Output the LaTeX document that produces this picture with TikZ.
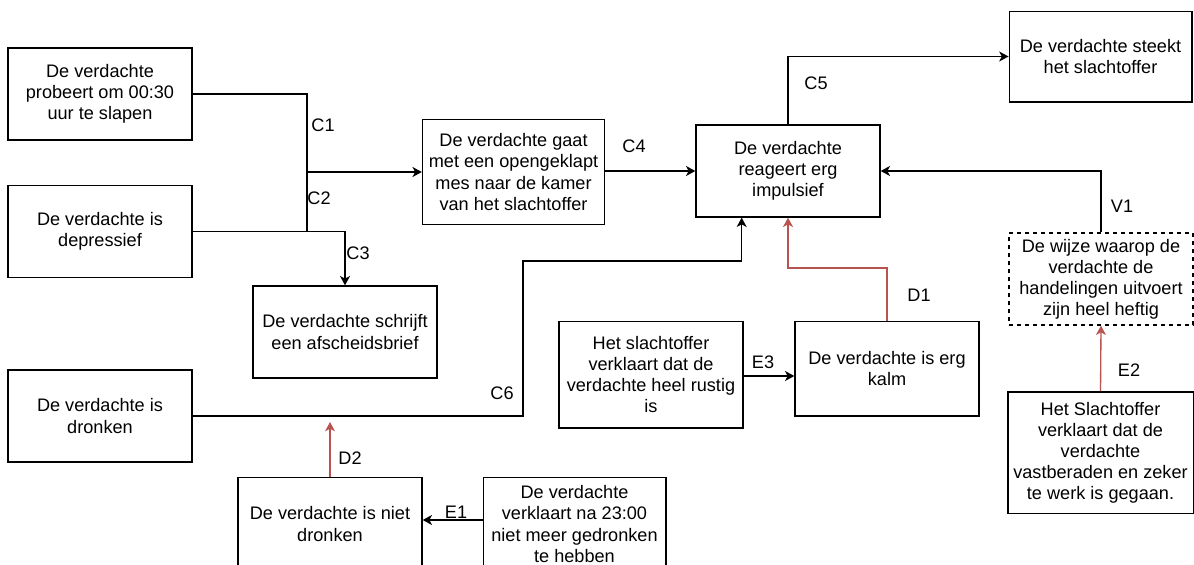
\documentclass[tikz,border=0pt]{standalone}
\usepackage{fontspec}
\setmainfont{Liberation Sans}
\usepackage{tikz}
\usetikzlibrary{arrows.meta, calc, positioning}

\definecolor{drawred}{HTML}{B85450}
\tikzset{
  box/.style={draw, line width=1pt, align=center, inner sep=2pt,
    minimum width=138pt, minimum height=69pt,
    font=\fontsize{13.6}{15.8}\selectfont},
  lbl/.style={font=\fontsize{13.6}{15.8}\selectfont, inner sep=1pt},
  link/.style={line width=1pt, -{Stealth[length=7pt, width=7.5pt, inset=2pt]}},
  redlink/.style={link, draw=drawred, -{Stealth[length=7pt, width=7.5pt, inset=2pt, fill=drawred]}}
}

\begin{document}
\begin{tikzpicture}[x=0.75pt, y=-0.75pt]
  \useasboundingbox (0,0) rectangle (1194,564);
  % boxes
  \node[box] (slapen) at (100,94) {De verdachte\\probeert om 00:30\\uur te slapen};
  \node[box] (depressief) at (100,231.5) {De verdachte is\\depressief};
  \node[box, minimum width=136.5pt, minimum height=79pt] (mes) at (513.5,172) {De verdachte gaat\\met een opengeklapt\\mes naar de kamer\\van het slachtoffer};
  \node[box] (brief) at (345,332) {De verdachte schrijft\\een afscheidsbrief};
  \node[box] (impulsief) at (788,171) {De verdachte\\reageert erg\\impulsief};
  \node[box, minimum width=137pt, minimum height=68pt] (steekt) at (1100.5,56.5) {De verdachte steekt\\het slachtoffer};
  \node[box, dashed] (heftig) at (1101,279) {De wijze waarop de\\verdachte de\\handelingen uitvoert\\zijn heel heftig};
  \node[box, minimum width=139pt, minimum height=91pt] (vastberaden) at (1100.5,452.5) {Het Slachtoffer\\verklaart dat de\\verdachte\\vastberaden en zeker\\te werk is gegaan.};
  \node[box, minimum height=80pt] (rustig) at (651,374.5) {Het slachtoffer\\verklaart dat de\\verdachte heel rustig\\is};
  \node[box, minimum height=71pt] (kalm) at (887,368.5) {De verdachte is erg\\kalm};
  \node[box] (dronken) at (100,416) {De verdachte is\\dronken};
  \node[box, minimum height=70pt] (nietdronken) at (330,524) {De verdachte is niet\\dronken};
  \node[box, minimum width=137pt, minimum height=70pt] (verklaart) at (574.5,524) {De verdachte\\verklaart na 23:00\\niet meer gedronken\\te hebben};

  % bends
  \coordinate (samen) at (307,172);
  \coordinate (knik) at (523,261);
  \coordinate (kalmop) at (887,268);
  \coordinate (d2) at ([yshift=-4.5pt]nietdronken.north |- dronken.east);

  % connectors
  \draw[line width=1pt] (slapen.east) -| (samen);
  \draw[line width=1pt] (depressief.east) -| (samen);
  \draw[link] (samen) -- (samen -| mes.west);
  \draw[link] (depressief.east) -| (brief.north);
  \draw[link] (mes.east |- impulsief.west) -- (impulsief.west);
  \draw[link] (impulsief.north) |- (steekt.west);
  \draw[link] (heftig.north) |- (impulsief.east);
  \draw[link] (dronken.east) -| (knik) -| ($(impulsief.south west)!0.25!(impulsief.south east)$);
  \draw[redlink] (kalm.north) -- (kalmop) -| (impulsief.south);
  \draw[redlink] (vastberaden.north) -- (heftig.south);
  \draw[link] (rustig.east |- 0,376) -- (kalm.west |- 0,376);
  \draw[redlink] (nietdronken.north) -- (d2);
  \draw[link] (verklaart.west |- 0,520) -- (nietdronken.east |- 0,520);

  % labels
  \node[lbl] (c1) at (323,125) {C1};
  \node[lbl] (c2) at (319,198) {C2};
  \node[lbl] (c3) at (358,253) {C3};
  \node[lbl] (c4) at (634,146) {C4};
  \node[lbl] (c5) at (816,83) {C5};
  \node[lbl] (c6) at (502,393) {C6};
  \node[lbl] (v1) at (1122,206) {V1};
  \node[lbl] (d1) at (919,295) {D1};
  \node[lbl] (d2lbl) at (350,458) {D2};
  \node[lbl] (e1) at (456,512) {E1};
  \node[lbl] (e2) at (1129,370) {E2};
  \node[lbl] (e3) at (763,362) {E3};
\end{tikzpicture}
\end{document}
